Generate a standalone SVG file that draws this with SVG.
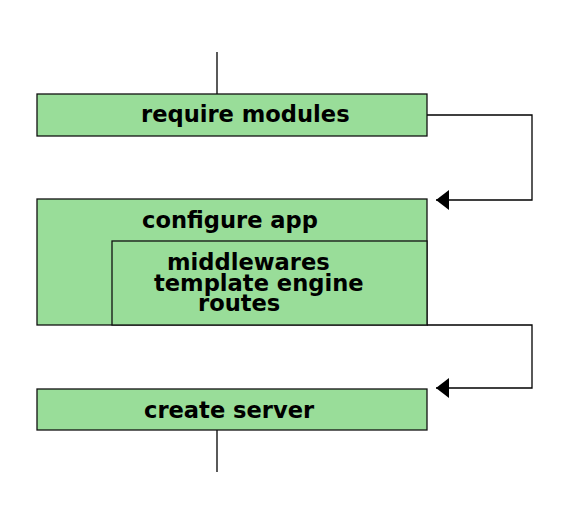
<svg xmlns="http://www.w3.org/2000/svg" width="570" height="525" viewBox="0 0 570 525">
<defs>
<style>
.box{fill:#99dd99;stroke:#111;stroke-width:1.3}
.t{font-family:"DejaVu Sans",sans-serif;font-weight:bold;font-size:22.6px;fill:#000}
.c{fill:none;stroke:#000;stroke-width:1.3}
</style>
<marker id="ah" markerWidth="14" markerHeight="20" refX="13" refY="10" orient="auto" markerUnits="userSpaceOnUse">
<path d="M0,0 L13,10 L0,20 Z" fill="#000"/>
</marker>
</defs>
<rect width="570" height="525" fill="#fff"/>
<g id="connectors">
<path class="c" d="M217,52 V94"/>
<path class="c" d="M427,115 H532 V200 H436" marker-end="url(#ah)"/>
<path class="c" d="M427,325 H532 V388 H436" marker-end="url(#ah)"/>
<path class="c" d="M217,430 V472"/>
</g>
<g id="require">
<rect class="box" x="37" y="94" width="390" height="42"/>
<text class="t" x="141" y="122">require modules</text>
</g>
<g id="configure">
<rect class="box" x="37" y="199" width="390" height="126"/>
<text class="t" x="142" y="228">configure app</text>
<g id="inner">
<rect class="box" x="112" y="241" width="315" height="84"/>
<text class="t" x="167" y="270">middlewares</text>
<text class="t" x="154" y="291">template engine</text>
<text class="t" x="198" y="311">routes</text>
</g>
</g>
<g id="server">
<rect class="box" x="37" y="389" width="390" height="41"/>
<text class="t" x="144" y="418">create server</text>
</g>
</svg>
